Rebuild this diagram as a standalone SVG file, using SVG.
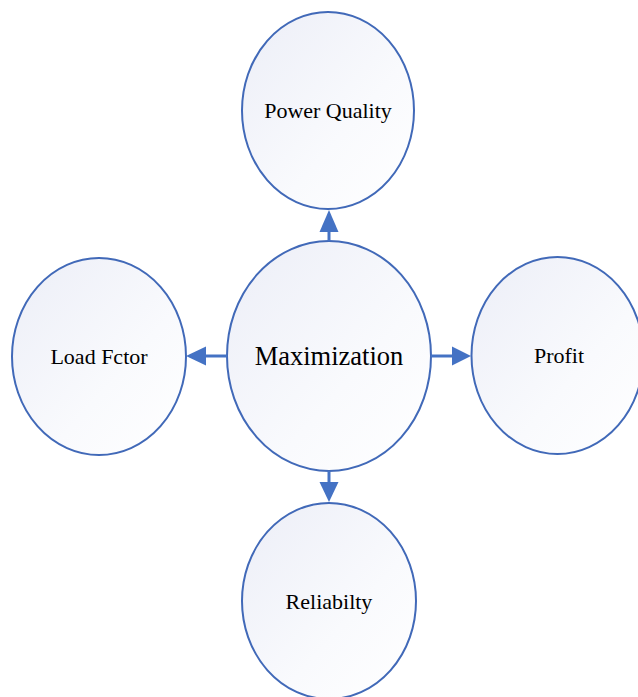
<svg xmlns="http://www.w3.org/2000/svg" width="638" height="697" viewBox="0 0 638 697">
<defs>
<linearGradient id="g" x1="0" y1="0" x2="1" y2="1">
<stop offset="0" stop-color="#ECEEF7"/>
<stop offset="0.6" stop-color="#F9FAFD"/>
<stop offset="1" stop-color="#FFFFFF"/>
</linearGradient>
<marker id="ah" markerWidth="10" markerHeight="10" refX="9" refY="5" orient="auto" markerUnits="userSpaceOnUse" viewBox="0 0 10 10">
<path d="M0,0 L10,5 L0,10 Z" fill="#4472C4"/>
</marker>
</defs>
<style>
.n{fill:url(#g);stroke:#4169B8;stroke-width:2}
.t{font-family:"Liberation Serif","Times New Roman",serif;font-size:22px;fill:#000;text-anchor:middle}
.c{fill:none;stroke:#4472C4;stroke-width:3}
.h{fill:#4472C4}
</style>
<g id="power-quality"><ellipse class="n" cx="328" cy="110.5" rx="86" ry="98.5"/><text class="t" x="328" y="118">Power Quality</text></g>
<g id="maximization"><ellipse class="n" cx="329" cy="356" rx="102" ry="115"/><text class="t" x="329" y="365" style="font-size:26.5px">Maximization</text></g>
<g id="load-factor"><ellipse class="n" cx="99" cy="356.5" rx="87" ry="98.5"/><text class="t" x="99" y="364">Load Fctor</text></g>
<g id="profit"><ellipse class="n" cx="557.5" cy="355.5" rx="86" ry="98.5"/><text class="t" x="559" y="363">Profit</text></g>
<g id="reliability"><ellipse class="n" cx="329" cy="601" rx="87" ry="98"/><text class="t" x="329" y="609">Reliabilty</text></g>
<g id="connectors">
<line class="c" x1="329" y1="241" x2="329" y2="230"/><path class="h" d="M329,210 L338.5,232 L319.5,232 Z"/>
<line class="c" x1="227" y1="356" x2="204" y2="356"/><path class="h" d="M186,356 L206,346.5 L206,365.5 Z"/>
<line class="c" x1="431" y1="356" x2="454" y2="356"/><path class="h" d="M471,356 L452,346.5 L452,365.5 Z"/>
<line class="c" x1="329" y1="471" x2="329" y2="484"/><path class="h" d="M329,502 L319.5,482 L338.5,482 Z"/>
</g>
</svg>
